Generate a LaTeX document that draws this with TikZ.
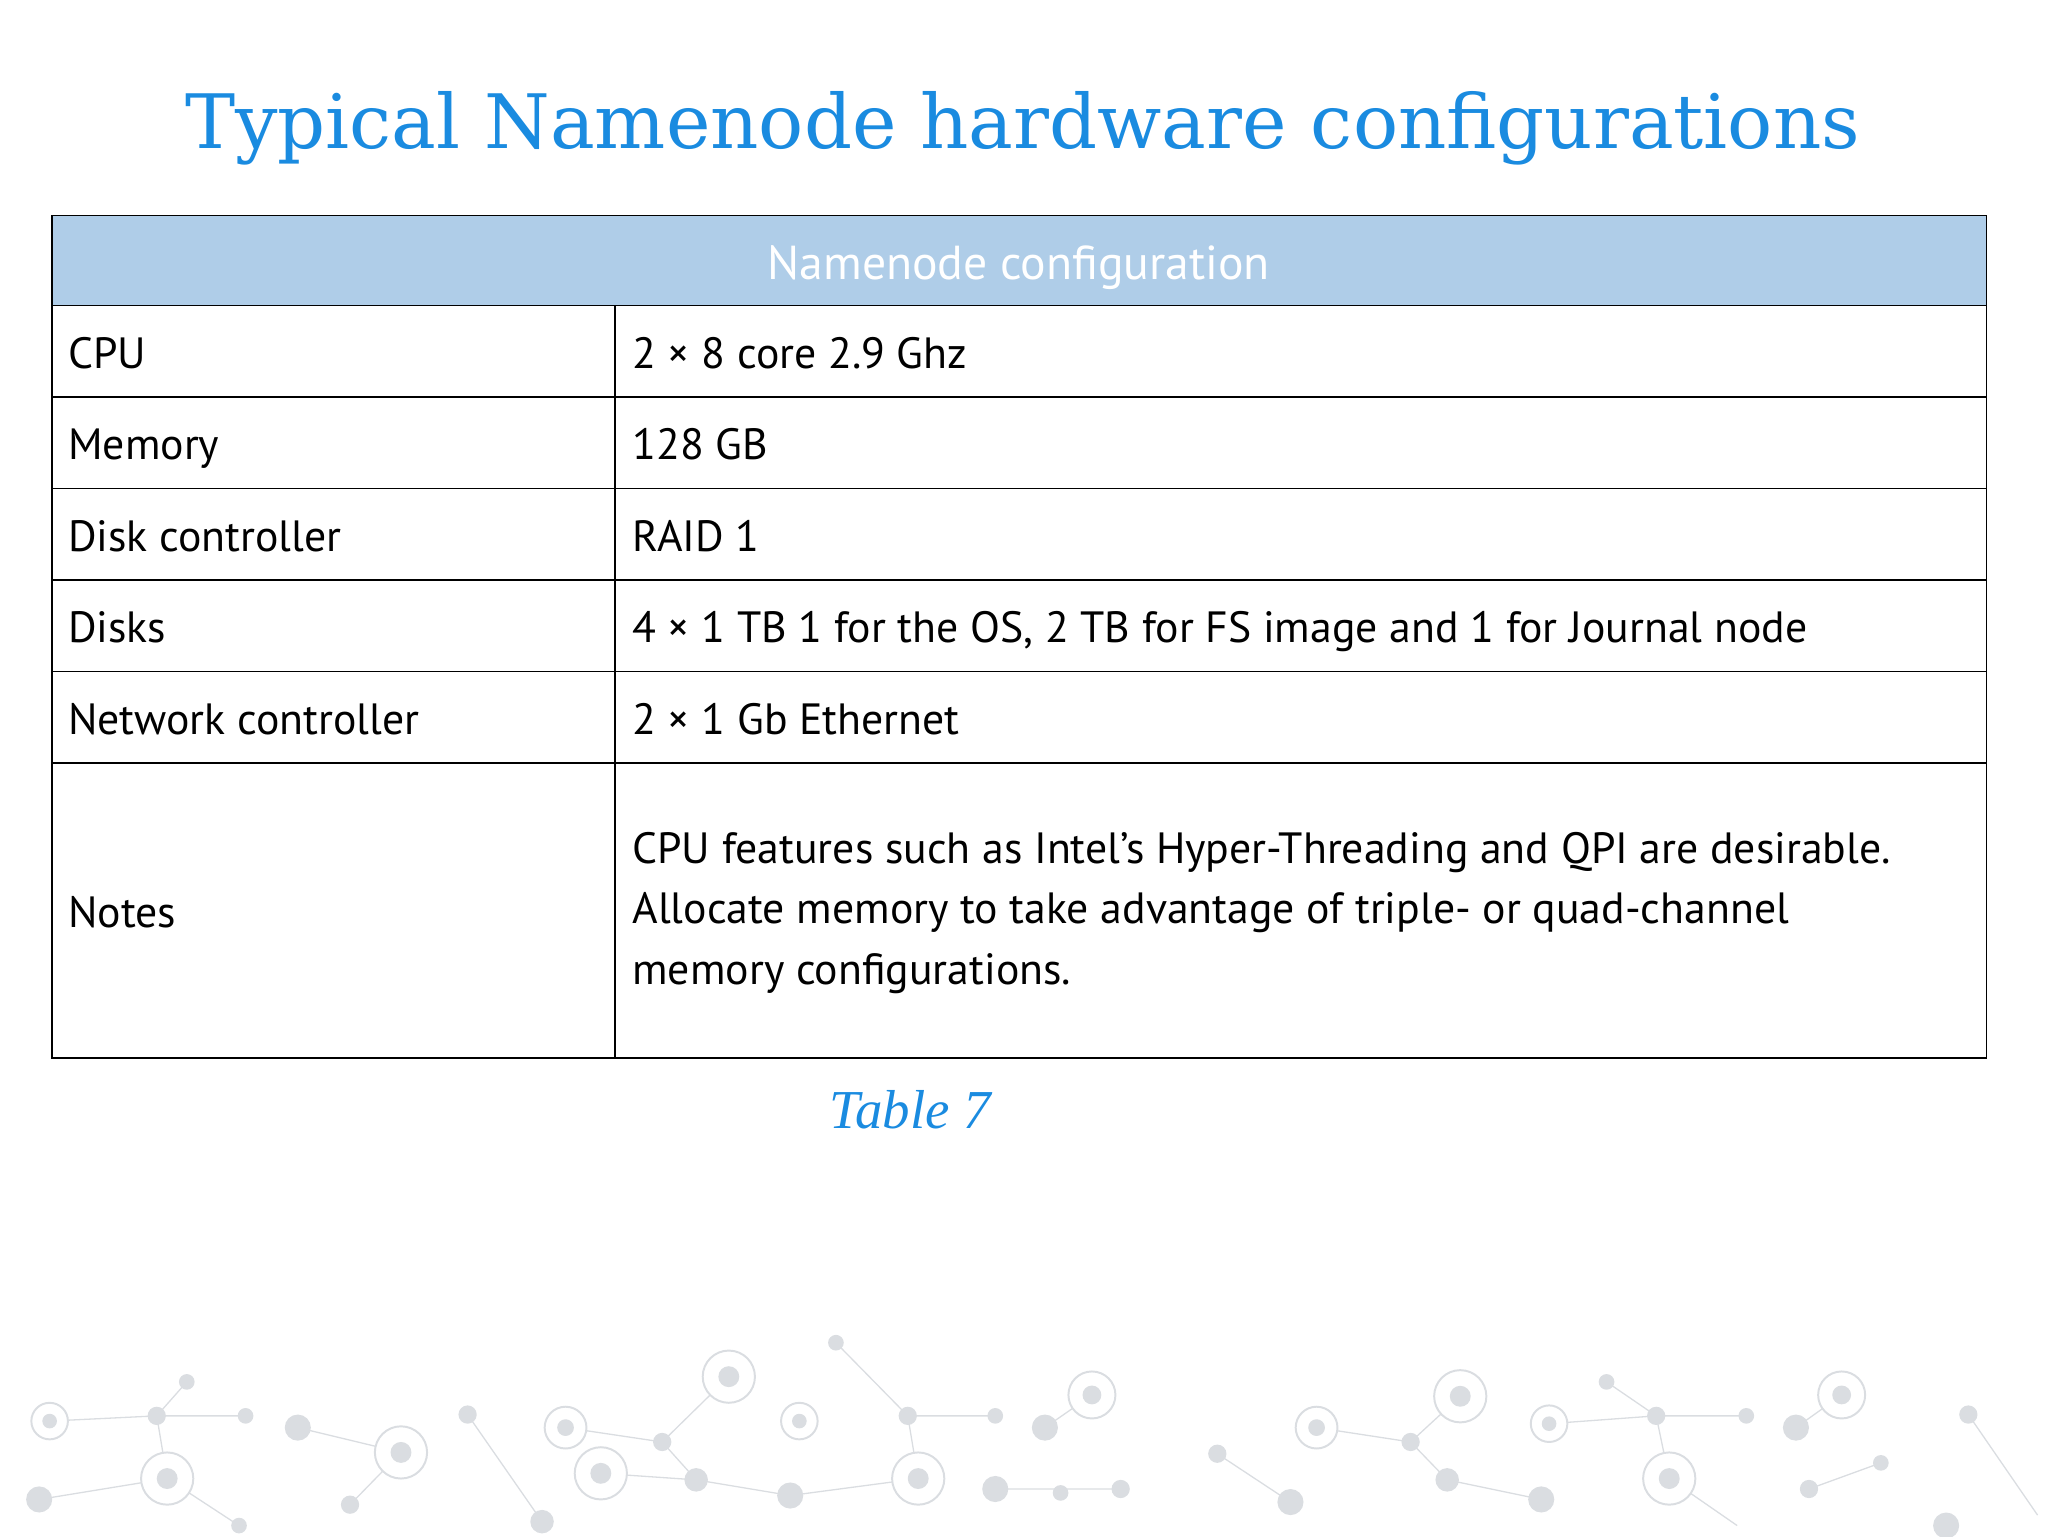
\documentclass[tikz,border=0pt]{standalone}
\usepackage{fontspec}
\setmainfont{PT Sans}
\newfontfamily\titlefont{DejaVu Serif}
\newfontfamily\capfont{Liberation Serif}
\definecolor{ttl}{HTML}{1A8BE0}
\definecolor{hdr}{HTML}{AFCDE8}
\definecolor{deco}{HTML}{DADDE1}
\begin{document}
\begin{tikzpicture}[x=1pt,y=-1pt,
  cell/.style={anchor=base west,font=\fontsize{33.5}{46}\selectfont,inner sep=0pt},
  dot/.style={fill=deco,draw=none},
  ring/.style={draw=deco,line width=1.5pt,fill=white}]
\useasboundingbox (0,0) rectangle (1568,1176);
% decoration
\begin{scope}[draw=deco,line width=1pt]
\draw (38,1088)--(120,1084)--(143,1058) (120,1084)--(188,1084) (120,1084)--(128,1132)--(183,1168) (128,1132)--(30,1148)
(228,1093)--(307,1112)--(268,1152) (358,1083)--(415,1165) (433,1093)--(507,1104)--(558,1054) (507,1104)--(533,1133)--(460,1128) (533,1133)--(605,1145)
(640,1028)--(695,1084)--(762,1084) (695,1084)--(703,1132)--(605,1145) (762,1140)--(858,1140) (800,1093)--(836,1068)
(932,1113)--(988,1150) (1008,1093)--(1080,1104)--(1118,1069) (1080,1104)--(1108,1133)--(1180,1148) (1186,1090)--(1268,1084)--(1230,1058)
(1268,1084)--(1337,1084) (1268,1084)--(1278,1132)--(1330,1168) (1375,1093)--(1410,1068) (1385,1140)--(1440,1120) (1507,1083)--(1560,1160);
\end{scope}
\foreach \x/\y/\r in {143/1058/6,120/1084/7,188/1084/6,228/1093/10,307/1112/9,268/1152/7,30/1148/10,183/1168/6,358/1083/7,415/1165/9,507/1104/7,533/1133/9,460/1128/6,605/1145/10,640/1028/6,695/1084/7,762/1084/6,762/1140/10,812/1143/6,858/1140/7,800/1093/10,932/1113/7,988/1150/10,1080/1104/7,1108/1133/9,1230/1058/6,1268/1084/7,1337/1084/6,1375/1093/10,1385/1140/7,1440/1120/6,1507/1083/7,1180/1148/10,1490/1168/10}
  \fill[deco] (\x,\y) circle[radius=\r];
\foreach \x/\y/\r in {38/1088/14,128/1132/20,307/1112/20,433/1093/16,558/1054/20,460/1128/20,612/1088/14,703/1132/20,836/1068/18,1008/1093/16,1118/1069/20,1186/1090/14,1278/1132/20,1410/1068/18}
  {\draw[ring] (\x,\y) circle[radius=\r]; \fill[deco] (\x,\y) circle[radius=\r*0.4];}
% title
\node[font=\titlefont\fontsize{57.5}{64}\selectfont,text=ttl] (title) at (783,98) {Typical Namenode hardware configurations};
% table
\fill[hdr] (40,165) rectangle (1521,234);
\node[anchor=base,font=\fontsize{36.5}{40}\selectfont,text=white] (hd) at (780,214) {Namenode configuration};
\draw[line width=1.2pt] (40,165) rectangle (1521,810);
\foreach \y in {234,304,374,444,514,584} \draw[line width=1.2pt] (40,\y)--(1521,\y);
\draw[line width=1.2pt] (471,234)--(471,810);
\node[cell] (a1) at (52,282) {CPU};
\node[cell] (b1) at (484,282) {2 × 8 core 2.9 Ghz};
\node[cell] (a2) at (52,352) {Memory};
\node[cell] (b2) at (484,352) {128 GB};
\node[cell] (a3) at (52,422) {Disk controller};
\node[cell] (b3) at (484,422) {RAID 1};
\node[cell] (a4) at (52,492) {Disks};
\node[cell] (b4) at (484,492) {4 × 1 TB 1 for the OS, 2 TB for FS image and 1 for Journal node};
\node[cell] (a5) at (52,562) {Network controller};
\node[cell] (b5) at (484,562) {2 × 1 Gb Ethernet};
\node[cell] (a6) at (52,710) {Notes};
\node[cell,anchor=west,align=left] (b6) at (484,699) {CPU features such as Intel’s Hyper-Threading and QPI are desirable.\\Allocate memory to take advantage of triple- or quad-channel\\memory configurations.};
\node[font=\capfont\itshape\fontsize{42}{48}\selectfont,text=ttl] (cap) at (697,850) {Table 7};
\end{tikzpicture}
\end{document}
